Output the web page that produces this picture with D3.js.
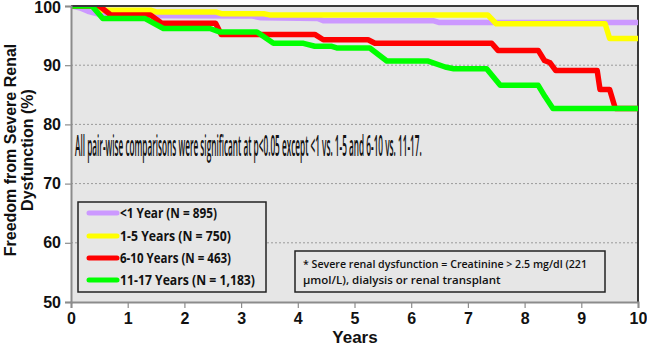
<!DOCTYPE html>
<html><head><meta charset="utf-8">
<script src="https://cdn.jsdelivr.net/npm/d3@7"></script>
<style>
html,body{margin:0;padding:0;background:#fff;}
svg{display:block;}
</style></head>
<body>
<svg id="chart" width="647" height="346"></svg>
<script>
// ---- data ----
const xTicks = [0,1,2,3,4,5,6,7,8,9,10];
const yTicks = [50,60,70,80,90,100];
const seriesNames = ["<1 Year (N = 895)","1-5 Years (N = 750)","6-10 Years (N = 463)","11-17 Years (N = 1,183)"];
const seriesColors = ["#cc99ff","#ffff00","#ff0000","#00ff00"];
const under1 = [[0,100],[0.15,99.7],[0.3,99.1],[0.5,98.6],[0.7,98.4],[3.2,98.3],[3.35,98.0],[4.35,97.9],[4.45,97.5],[6.4,97.5],[6.5,97.2],[10,97.2]];
const y1to5 = [[0,100],[0.35,100],[0.5,99.3],[1.4,99.3],[1.5,99.0],[2.55,99.0],[2.65,98.7],[3.4,98.7],[3.5,98.5],[7.35,98.5],[7.5,97.0],[9.42,97.0],[9.5,94.5],[10,94.5]];
const y6to10 = [[0,100],[0.5,100],[0.7,98.5],[1.4,98.5],[1.6,97.1],[2.55,97.1],[2.65,95.2],[4.3,95.2],[4.45,94.3],[5.24,94.3],[5.36,93.7],[7.42,93.7],[7.53,92.5],[8.24,92.5],[8.35,90.8],[8.45,90.4],[8.55,89.1],[9.28,89.1],[9.33,85.9],[9.5,85.9],[9.6,82.7],[10,82.7]];
const y11to17 = [[0,100],[0.37,100],[0.56,97.9],[1.3,97.9],[1.63,96.2],[2.45,96.2],[2.63,95.6],[3.28,95.6],[3.57,93.7],[4.1,93.7],[4.3,93.2],[4.6,93.2],[4.7,92.9],[5.27,92.9],[5.57,90.7],[6.3,90.7],[6.6,89.7],[6.75,89.4],[7.33,89.4],[7.57,86.6],[8.24,86.6],[8.36,84.7],[8.5,82.7],[10,82.7]];
const seriesData = [under1, y1to5, y6to10, y11to17];
const annotation = "All pair-wise comparisons were significant at p<0.05 except <1 vs. 1-5 and 6-10 vs. 11-17.";
const footnote = ["* Severe renal dysfunction = Creatinine > 2.5 mg/dl (221","\u00b5mol/L), dialysis or renal transplant"];

// ---- layout ----
const svg = d3.select("#chart");
const L = 71, R = 638, T = 6, B = 302;
const x = d3.scaleLinear().domain([0,10]).range([L,R]);
const y = d3.scaleLinear().domain([50,100]).range([B,T]);
const bold = "'Liberation Sans', Arial, sans-serif";

svg.append("rect").attr("x",L).attr("y",T).attr("width",R-L).attr("height",B-T).attr("fill","#e6e6e6");

// gridlines
svg.append("g").selectAll("line").data(yTicks.filter(d=>d>50&&d<100)).join("line")
  .attr("x1",L).attr("x2",R).attr("y1",d=>y(d)).attr("y2",d=>y(d))
  .attr("stroke","#9a9a9a").attr("stroke-width",1).attr("stroke-dasharray","2,2");

// top + right border
svg.append("path").attr("d",`M${L},${T}H${R}V${B}`).attr("fill","none").attr("stroke","#3a3a3a").attr("stroke-width",2);

// clip
svg.append("clipPath").attr("id","clip").append("rect").attr("x",L).attr("y",T+1).attr("width",R-L).attr("height",B-T);

const line = d3.line().x(d=>x(d[0])).y(d=>y(d[1]));
svg.append("g").attr("clip-path","url(#clip)").selectAll("path").data(seriesData).join("path")
  .attr("d",line).attr("fill","none").attr("stroke",(d,i)=>seriesColors[i])
  .attr("stroke-width",5.5).attr("stroke-linejoin","round");

// axes
const xAxis = svg.append("g").attr("transform",`translate(0,${B})`)
  .call(d3.axisBottom(x).tickValues(xTicks).tickSize(6).tickPadding(5).tickFormat(d3.format("d")));
const yAxis = svg.append("g").attr("transform",`translate(${L},0)`)
  .call(d3.axisLeft(y).tickValues(yTicks).tickSize(6).tickPadding(4).tickFormat(d3.format("d")));
[xAxis,yAxis].forEach(g=>{
  g.select(".domain").attr("stroke","#8c8c8c").attr("stroke-width",2);
  g.selectAll(".tick line").attr("stroke","#8c8c8c").attr("stroke-width",1.2);
  g.selectAll("text").attr("font-family",bold).attr("font-weight","bold").attr("font-size",16).attr("fill","#111");
});
yAxis.selectAll(".tick").filter(d=>d===100).select("text").attr("dy","0.4em");

// axis titles
svg.append("text").attr("x",355).attr("y",343).attr("text-anchor","middle")
  .attr("font-family",bold).attr("font-weight","bold").attr("font-size",17).attr("fill","#111").text("Years");
const yt = svg.append("text").attr("transform","translate(0,150) rotate(-90)")
  .attr("text-anchor","middle").attr("font-family",bold).attr("font-weight","bold").attr("font-size",16).attr("fill","#111");
yt.append("tspan").attr("x",0).attr("y",16).text("Freedom from Severe Renal");
yt.append("tspan").attr("x",0).attr("y",33).text("Dysfunction (%)");

// annotation (condensed via horizontal scale)
const ann = svg.append("text").attr("font-family","'Open Sans', sans-serif").attr("font-weight",600)
  .attr("font-size",29).attr("fill","#111").text(annotation);
const annW = ann.node().getComputedTextLength();
ann.attr("transform",`translate(75,156) scale(${347/annW},1)`);

// legend
const lg = svg.append("g");
lg.append("rect").attr("x",78).attr("y",202).attr("width",188).attr("height",90)
  .attr("fill","#e6e6e6").attr("stroke","#222").attr("stroke-width",1.5);
const rowsY = [213,236,258,280];
seriesNames.forEach((n,i)=>{
  lg.append("line").attr("x1",89).attr("x2",117).attr("y1",rowsY[i]).attr("y2",rowsY[i])
    .attr("stroke",seriesColors[i]).attr("stroke-width",5).attr("stroke-linecap","round");
  lg.append("text").attr("x",120).attr("y",rowsY[i]+4.5).attr("textLength",[97,111,111,135][i]).attr("lengthAdjust","spacingAndGlyphs")
    .attr("font-family","'Open Sans', sans-serif")
    .attr("font-weight","bold").attr("font-size",13.5).attr("fill","#111").text(n);
});

// footnote
const fn = svg.append("g");
fn.append("rect").attr("x",295).attr("y",251).attr("width",310).attr("height",41)
  .attr("fill","#e6e6e6").attr("stroke","#222").attr("stroke-width",1.5);
fn.append("text").attr("x",303).attr("y",268).attr("textLength",284).attr("lengthAdjust","spacingAndGlyphs")
  .attr("font-family","'Open Sans', sans-serif").attr("font-weight",600).attr("font-size",11.5).attr("fill","#111").text(footnote[0]);
fn.append("text").attr("x",303).attr("y",284)
  .attr("font-family","'Open Sans', sans-serif").attr("font-weight",600).attr("font-size",11.5).attr("fill","#111").text(footnote[1]);
</script>
</body></html>
